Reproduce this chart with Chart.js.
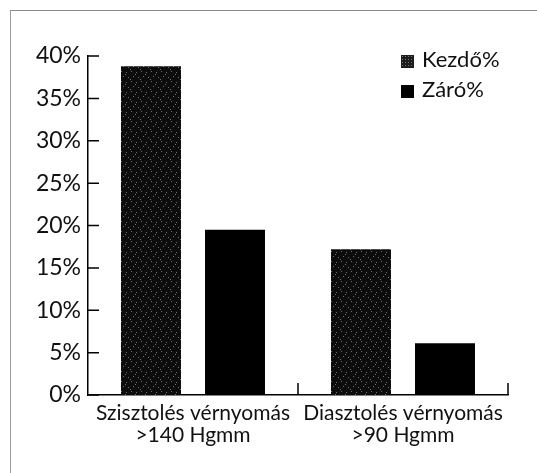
<!DOCTYPE html>
<html>
<head>
<meta charset="utf-8">
<script src="https://cdn.jsdelivr.net/npm/chart.js@4.4.1/dist/chart.umd.min.js"></script>
<style>
	html, body { margin: 0; padding: 0; background: #fff; }
	.wrap { position: relative; width: 537px; height: 473px; }
	.frame { position: absolute; left: 10px; top: 10px; right: 0; bottom: 0;
		border-top: 1px solid #8a8a8a; border-left: 1px solid #9a9a9a; }
	.legend { position: absolute; left: 401px; top: 45px;
		font: 22px Lato, sans-serif; color: #111; }
	.legend div { height: 30px; line-height: 27px; white-space: nowrap; }
	.legend span { display: inline-block; width: 13px; height: 13px; margin-right: 8px; vertical-align: -1px; }
	canvas { position: absolute; left: 0; top: 0; }
</style>
</head>
<body>
<div class="wrap">
	<div class="frame"></div>
	<canvas id="chart" width="537" height="473"></canvas>
	<div class="legend" id="legend"></div>
</div>
<script>

// Data
var categories = [['Szisztolés vérnyomás', '>140 Hgmm'], ['Diasztolés vérnyomás', '>90 Hgmm']];
var seriesNames = ['Kezdő%', 'Záró%'];
var kezdo = [38.8, 17.2];
var zaro = [19.5, 6.1];
var yTicks = [0, 5, 10, 15, 20, 25, 30, 35, 40];

// Stippled fill for the first series
function stipple() {
	var c = document.createElement('canvas');
	c.width = 10; c.height = 10;
	var g = c.getContext('2d');
	g.fillStyle = '#0c0c0c';
	g.fillRect(0, 0, 10, 10);
	var dots = [[1, 1], [6, 2], [3, 6], [8, 7], [0, 9], [5, 4]];
	g.fillStyle = '#707070';
	dots.forEach(function(d) { g.fillRect(d[0], d[1], 1, 1); });
	return g.createPattern(c, 'repeat');
}
var grey = stipple();

// Inward tick marks
var innerTicks = {
	id: 'innerTicks',
	afterDraw: function(chart) {
		var ctx = chart.ctx, a = chart.chartArea;
		var y = chart.scales.y, x = chart.scales.x;
		ctx.save();
		ctx.strokeStyle = '#000';
		ctx.lineWidth = 1.5;
		ctx.beginPath();
		y.ticks.forEach(function(t, i) {
			var py = y.getPixelForTick(i);
			ctx.moveTo(a.left, py);
			ctx.lineTo(a.left + 11, py);
		});
		var mid = (x.getPixelForValue(0) + x.getPixelForValue(1)) / 2;
		[mid, a.right].forEach(function(px) {
			ctx.moveTo(px, a.bottom);
			ctx.lineTo(px, a.bottom - 12);
		});
		ctx.stroke();
		ctx.restore();
	}
};

var chart = new Chart(document.getElementById('chart'), {
	type: 'bar',
	data: {
		labels: categories,
		datasets: [{
			label: seriesNames[0],
			data: kezdo,
			backgroundColor: grey,
			borderWidth: 0
		}, {
			label: seriesNames[1],
			data: zaro,
			backgroundColor: '#000',
			borderWidth: 0
		}]
	},
	options: {
		responsive: false,
		animation: false,
		devicePixelRatio: 1,
		categoryPercentage: 0.8,
		barPercentage: 0.714,
		layout: { padding: { left: 0, right: 29, top: 56, bottom: 0 } },
		plugins: {
			legend: { display: false },
			tooltip: { enabled: false }
		},
		scales: {
			x: {
				grid: { display: false, drawTicks: false },
				border: { display: true, color: '#000', width: 1.5 },
				ticks: {
					color: '#111',
					padding: 7,
					font: { family: 'Lato', size: 21, lineHeight: 1.05 },
					maxRotation: 0
				},
				afterFit: function(s) { s.height = 78; }
			},
			y: {
				min: 0,
				max: 40,
				afterBuildTicks: function(s) {
					s.ticks = yTicks.map(function(v) { return { value: v }; });
				},
				grid: { display: false, drawTicks: false },
				border: { display: true, color: '#000', width: 1.5 },
				ticks: {
					color: '#111',
					padding: 7,
					font: { family: 'Lato', size: 23 },
					callback: function(v) { return v + '%'; }
				},
				afterFit: function(s) { s.width = 88; }
			}
		}
	},
	plugins: [innerTicks]
});

// Legend
var legend = document.getElementById('legend');
chart.data.datasets.forEach(function(ds, i) {
	var row = document.createElement('div');
	var box = document.createElement('span');
	if (i === 0) {
		box.style.background = '#1c1c1c';
		box.style.backgroundImage = 'radial-gradient(#777 0.6px, transparent 0.8px)';
		box.style.backgroundSize = '3px 3px';
	} else {
		box.style.background = '#000';
	}
	row.appendChild(box);
	row.appendChild(document.createTextNode(ds.label));
	legend.appendChild(row);
});
</script>
</body>
</html>
